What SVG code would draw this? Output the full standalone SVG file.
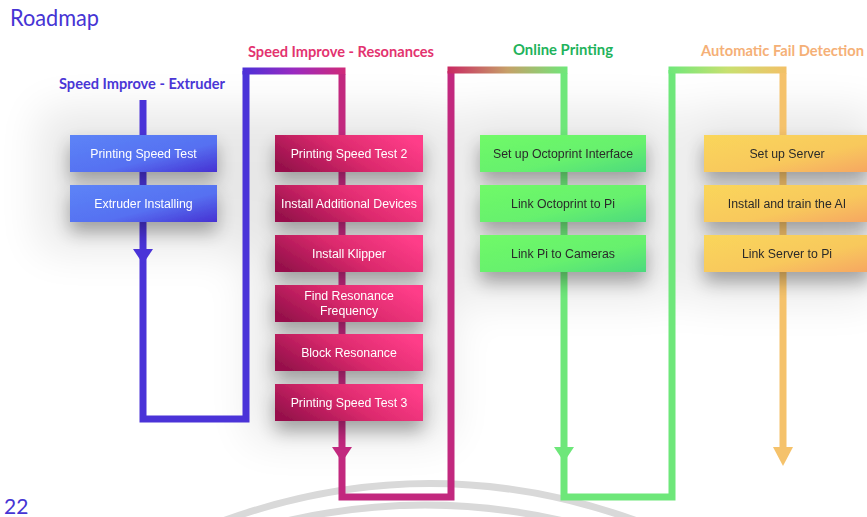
<svg xmlns="http://www.w3.org/2000/svg" width="867" height="517" viewBox="0 0 867 517">
<defs>
<style>
.h{font-family:Lato,"Open Sans","Liberation Sans",sans-serif;}
.bt{font-family:"Liberation Sans",Arial,sans-serif;font-size:12.3px;text-anchor:middle;}
.w{fill:#ffffff;}
.d{fill:#2a2a2a;}
.ln{fill:none;stroke-width:7;stroke-linejoin:miter;stroke-linecap:butt;}
.arc{fill:none;stroke:#d9d9d9;stroke-width:7;}
</style>
<linearGradient id="gBlue" x1="0" y1="0" x2="1" y2="1"><stop offset="0" stop-color="#5c84f7"/><stop offset="0.6" stop-color="#5670f1"/><stop offset="1" stop-color="#4631d2"/></linearGradient>
<linearGradient id="gMag" x1="0" y1="0.7" x2="1" y2="0.3"><stop offset="0" stop-color="#98114c"/><stop offset="0.5" stop-color="#dc2a6d"/><stop offset="1" stop-color="#ff3d89"/></linearGradient>
<linearGradient id="gGrn" x1="0" y1="0" x2="1" y2="1"><stop offset="0" stop-color="#70fa68"/><stop offset="0.6" stop-color="#66f06e"/><stop offset="1" stop-color="#4cd97e"/></linearGradient>
<linearGradient id="gOrg" x1="0" y1="0" x2="1" y2="1"><stop offset="0" stop-color="#fad65a"/><stop offset="0.6" stop-color="#f8c85c"/><stop offset="1" stop-color="#f6a662"/></linearGradient>
<linearGradient id="t1" x1="0" y1="0" x2="1" y2="0"><stop offset="0" stop-color="#4a30d8"/><stop offset="0.5" stop-color="#9a2ac0"/><stop offset="1" stop-color="#d02a78"/></linearGradient>
<linearGradient id="t2" x1="0" y1="0" x2="1" y2="0"><stop offset="0" stop-color="#c92862"/><stop offset="0.5" stop-color="#c6a068"/><stop offset="1" stop-color="#6ee87a"/></linearGradient>
<linearGradient id="t3" x1="0" y1="0" x2="1" y2="0"><stop offset="0" stop-color="#6ee87a"/><stop offset="0.5" stop-color="#c8e070"/><stop offset="1" stop-color="#f3c067"/></linearGradient>
<filter id="sh" x="-30%" y="-60%" width="160%" height="280%">
<feGaussianBlur in="SourceAlpha" stdDeviation="9"/>
<feOffset dy="10"/>
<feComponentTransfer><feFuncA type="linear" slope="0.32"/></feComponentTransfer>
<feMerge><feMergeNode/><feMergeNode in="SourceGraphic"/></feMerge>
</filter>
<filter id="haze" x="-50%" y="-50%" width="200%" height="200%"><feGaussianBlur stdDeviation="22"/></filter>
</defs>
<rect width="867" height="517" fill="#ffffff"/>

<g id="background-haze" opacity="0.09" filter="url(#haze)">
<rect x="40" y="110" width="210" height="140" fill="#000"/>
<rect x="250" y="110" width="200" height="330" fill="#000"/>
<rect x="460" y="110" width="210" height="190" fill="#000"/>
<rect x="685" y="110" width="190" height="190" fill="#000"/>
</g>

<g id="watermark">
<path class="arc" d="M220 522 Q430 445 640 522"/>
<path class="arc" d="M270 525 Q425 485 580 525"/>
</g>

<g id="titles">
<text class="h" x="10" y="26" font-size="24" fill="#4634d4" textLength="89" lengthAdjust="spacingAndGlyphs">Roadmap</text>
<text class="h" x="59" y="89" font-size="15" font-weight="bold" fill="#4a36d6" textLength="166" lengthAdjust="spacingAndGlyphs">Speed Improve - Extruder</text>
<text class="h" x="248" y="57" font-size="15" font-weight="bold" fill="#e3336f" textLength="186" lengthAdjust="spacingAndGlyphs">Speed Improve - Resonances</text>
<text class="h" x="513" y="55" font-size="15" font-weight="bold" fill="#1fb35c" textLength="100" lengthAdjust="spacingAndGlyphs">Online Printing</text>
<text class="h" x="701" y="56" font-size="15" font-weight="bold" fill="#f5b077" textLength="163" lengthAdjust="spacingAndGlyphs">Automatic Fail Detection</text>
<text class="h" x="4" y="514" font-size="21" fill="#4634d4">22</text>
</g>

<g id="connectors">
<path class="ln" stroke="#4a33d8" d="M143 100 V419 H246 V71"/>
<rect x="242.5" y="67.5" width="103" height="7" fill="url(#t1)"/>
<path class="ln" stroke="#c2287e" d="M342 74 V497 H451 V71"/>
<rect x="447.5" y="66.5" width="120" height="7" fill="url(#t2)"/>
<path class="ln" stroke="#6ee77a" d="M564 73 V497 H672 V70"/>
<rect x="668.5" y="66.5" width="118" height="7" fill="url(#t3)"/>
<path class="ln" stroke="#f5c26b" d="M783 73 V452"/>
<polygon points="133,249 153,249 143,264" fill="#4a33d8"/>
<polygon points="332,447 352,447 342,462" fill="#c2287e"/>
<polygon points="554,447 574,447 564,462" fill="#6ee77a"/>
<polygon points="773,447 793,447 783,466" fill="#f5c26b"/>
</g>

<g id="n-printing-speed-test" filter="url(#sh)"><rect x="70" y="135" width="147" height="37" fill="url(#gBlue)"/><text class="bt w" x="143.5" y="158">Printing Speed Test</text></g>
<g id="n-extruder-installing" filter="url(#sh)"><rect x="70" y="185" width="147" height="37" fill="url(#gBlue)"/><text class="bt w" x="143.5" y="208">Extruder Installing</text></g>

<g id="n-printing-speed-test-2" filter="url(#sh)"><rect x="275" y="135" width="148" height="37" fill="url(#gMag)"/><text class="bt w" x="349" y="158">Printing Speed Test 2</text></g>
<g id="n-install-additional-devices" filter="url(#sh)"><rect x="275" y="185" width="148" height="37" fill="url(#gMag)"/><text class="bt w" x="349" y="207.5" font-size="11.3">Install Additional Devices</text></g>
<g id="n-install-klipper" filter="url(#sh)"><rect x="275" y="235" width="148" height="37" fill="url(#gMag)"/><text class="bt w" x="349" y="257.5" font-size="11.3">Install Klipper</text></g>
<g id="n-find-resonance-frequency" filter="url(#sh)"><rect x="275" y="285" width="148" height="37" fill="url(#gMag)"/><text class="bt w" x="349" y="300" font-size="12.2">Find Resonance</text><text class="bt w" x="349" y="315" font-size="12.2">Frequency</text></g>
<g id="n-block-resonance" filter="url(#sh)"><rect x="275" y="334" width="148" height="37" fill="url(#gMag)"/><text class="bt w" x="349" y="357">Block Resonance</text></g>
<g id="n-printing-speed-test-3" filter="url(#sh)"><rect x="275" y="384" width="148" height="37" fill="url(#gMag)"/><text class="bt w" x="349" y="407">Printing Speed Test 3</text></g>

<g id="n-set-up-octoprint" filter="url(#sh)"><rect x="480" y="135" width="166" height="37" fill="url(#gGrn)"/><text class="bt d" x="563" y="158">Set up Octoprint Interface</text></g>
<g id="n-link-octoprint-pi" filter="url(#sh)"><rect x="480" y="185" width="166" height="37" fill="url(#gGrn)"/><text class="bt d" x="563" y="207.5" font-size="11.5">Link Octoprint to Pi</text></g>
<g id="n-link-pi-cameras" filter="url(#sh)"><rect x="480" y="235" width="166" height="37" fill="url(#gGrn)"/><text class="bt d" x="563" y="258">Link Pi to Cameras</text></g>

<g id="n-set-up-server" filter="url(#sh)"><rect x="704" y="135" width="166" height="37" fill="url(#gOrg)"/><text class="bt d" x="787" y="158">Set up Server</text></g>
<g id="n-install-train-ai" filter="url(#sh)"><rect x="704" y="185" width="166" height="37" fill="url(#gOrg)"/><text class="bt d" x="787" y="208">Install and train the AI</text></g>
<g id="n-link-server-pi" filter="url(#sh)"><rect x="704" y="235" width="166" height="37" fill="url(#gOrg)"/><text class="bt d" x="787" y="258">Link Server to Pi</text></g>
</svg>
